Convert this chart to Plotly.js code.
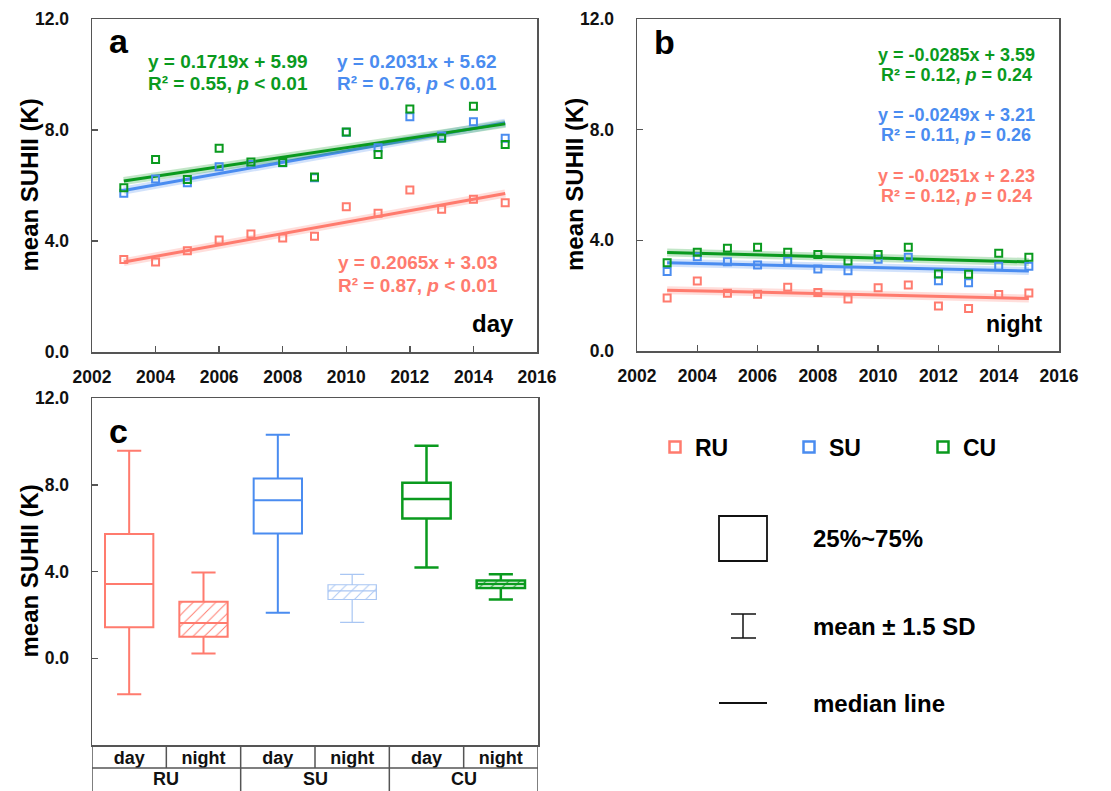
<!DOCTYPE html>
<html><head><meta charset="utf-8">
<script src="https://cdn.plot.ly/plotly-3.0.1.min.js"></script>
<style>html,body{margin:0;padding:0;background:#fff;overflow:hidden}#chart{width:1111px;height:791px}</style>
</head><body><div id="chart"></div>
<script>
// ---------- data ----------
const years = [2003, 2004, 2005, 2006, 2007, 2008, 2009, 2010, 2011, 2012, 2013, 2014, 2015];
const ruDay = [3.33, 3.24, 3.65, 4.04, 4.25, 4.11, 4.17, 5.23, 5.00, 5.84, 5.14, 5.50, 5.38];
const suDay = [5.72, 6.23, 6.10, 6.68, 6.76, 6.82, 6.28, 7.92, 7.36, 8.48, 7.78, 8.30, 7.70];
const cuDay = [5.92, 6.94, 6.22, 7.34, 6.85, 6.83, 6.31, 7.93, 7.12, 8.76, 7.70, 8.86, 7.48];
const ruNight = [1.92, 2.53, 2.09, 2.05, 2.30, 2.11, 1.88, 2.29, 2.39, 1.63, 1.54, 2.04, 2.10];
const suNight = [2.87, 3.41, 3.23, 3.11, 3.25, 2.96, 2.90, 3.32, 3.39, 2.54, 2.47, 3.06, 3.06];
const cuNight = [3.19, 3.57, 3.71, 3.75, 3.57, 3.49, 3.25, 3.49, 3.75, 2.78, 2.77, 3.53, 3.39];

// fitted trend lines (values at 2003 and 2015)
const trendYears = [2003, 2015];
const ruDayTrend = [3.24, 5.71];
const suDayTrend = [5.82, 8.26];
const cuDayTrend = [6.16, 8.22];
const ruNightTrend = [2.20, 1.90];
const suNightTrend = [3.19, 2.89];
const cuNightTrend = [3.56, 3.22];

// box statistics (panel c)
const boxCats = ['RU day', 'RU night', 'SU day', 'SU night', 'CU day', 'CU night'];
const boxTickText = ['day', 'night', 'day', 'night', 'day', 'night'];
const groupLabels = ['RU', 'SU', 'CU'];
const boxQ1 = [1.43, 0.99, 5.75, 2.71, 6.44, 3.24];
const boxMedian = [3.42, 1.63, 7.29, 3.11, 7.34, 3.42];
const boxQ3 = [5.73, 2.60, 8.29, 3.39, 8.09, 3.59];
const boxLow = [-1.66, 0.22, 2.10, 1.65, 4.18, 2.71];
const boxHigh = [9.57, 3.95, 10.31, 3.87, 9.80, 3.87];

const eqDay = {
  cu: ['y = 0.1719x + 5.99', 'R² = 0.55, <i>p</i> < 0.01'],
  su: ['y = 0.2031x + 5.62', 'R² = 0.76, <i>p</i> < 0.01'],
  ru: ['y = 0.2065x + 3.03', 'R² = 0.87, <i>p</i> < 0.01']
};
const eqNight = {
  cu: ['y = -0.0285x + 3.59', 'R² = 0.12, <i>p</i> = 0.24'],
  su: ['y = -0.0249x + 3.21', 'R² = 0.11, <i>p</i> = 0.26'],
  ru: ['y = -0.0251x + 2.23', 'R² = 0.12, <i>p</i> = 0.24']
};

// ---------- styles ----------
const C_RU = '#FF7B6E', C_SU = '#4A8CF0', C_CU = '#0A9A1E', C_SU_L = '#A9C6F3';
const FONT = 'Liberation Sans, Arial, Helvetica, sans-serif';
const W = 1111, H = 791;
const fx = p => p / W, fy = p => 1 - p / H;
const AX = '#555';

const traces = [];
function trend(xa, ya, y, color) {
  traces.push({x: trendYears, y: y, xaxis: xa, yaxis: ya, mode: 'lines', showlegend: false, hoverinfo: 'skip',
    line: {color: color, width: 8}, opacity: 0.25});
  traces.push({x: trendYears, y: y, xaxis: xa, yaxis: ya, mode: 'lines', showlegend: false, hoverinfo: 'skip',
    line: {color: color, width: 3}});
}
function pts(xa, ya, y, color, name) {
  traces.push({x: years, y: y, xaxis: xa, yaxis: ya, mode: 'markers', name: name, showlegend: false,
    marker: {symbol: 'square-open', size: 7, color: color, line: {color: color, width: 2}}});
}
trend('x', 'y', ruDayTrend, C_RU); trend('x', 'y', suDayTrend, C_SU); trend('x', 'y', cuDayTrend, C_CU);
trend('x2', 'y2', ruNightTrend, C_RU); trend('x2', 'y2', suNightTrend, C_SU); trend('x2', 'y2', cuNightTrend, C_CU);
pts('x', 'y', ruDay, C_RU, 'RU'); pts('x', 'y', suDay, C_SU, 'SU'); pts('x', 'y', cuDay, C_CU, 'CU');
pts('x2', 'y2', ruNight, C_RU, 'RU'); pts('x2', 'y2', suNight, C_SU, 'SU'); pts('x2', 'y2', cuNight, C_CU, 'CU');
// legend entries (larger symbols, as in the figure legend)
[['RU', C_RU], ['SU', C_SU], ['CU', C_CU]].forEach(([n, c]) => {
  traces.push({x: [null], y: [null], xaxis: 'x', yaxis: 'y', mode: 'markers', name: n, showlegend: true,
    marker: {symbol: 'square-open', size: 11, color: c, line: {color: c, width: 2.5}}});
});

const boxColors = [C_RU, C_RU, C_SU, C_SU_L, C_CU, C_CU];
const boxLineW = [2, 2, 2, 1.2, 2.5, 2.5];
// hatch fill for night boxes
[1, 3, 5].forEach(i => {
  traces.push({type: 'bar', x: [boxCats[i]], base: [boxQ1[i]], y: [boxQ3[i] - boxQ1[i]], width: 0.65,
    xaxis: 'x3', yaxis: 'y3', showlegend: false, hoverinfo: 'skip',
    marker: {color: 'rgba(0,0,0,0)', line: {width: 0},
      pattern: {shape: '/', fgcolor: boxColors[i], bgcolor: 'rgba(0,0,0,0)', size: 8, solidity: 0.12}}});
});
boxCats.forEach((c, i) => {
  traces.push({type: 'box', x: [c], q1: [boxQ1[i]], median: [boxMedian[i]], q3: [boxQ3[i]],
    lowerfence: [boxLow[i]], upperfence: [boxHigh[i]], width: 0.65, whiskerwidth: 0.5,
    boxpoints: false, xaxis: 'x3', yaxis: 'y3', showlegend: false, name: c,
    fillcolor: 'rgba(0,0,0,0)', line: {color: boxColors[i], width: boxLineW[i]}});
});

// ---------- layout ----------
function f(size, color) { return {family: FONT, size: size, color: color || '#000', weight: 'bold'}; }
const tickFont = f(17.5, '#111');
function axBase(extra) {
  return Object.assign({showline: true, mirror: true, linecolor: AX, linewidth: 1.5, showgrid: false, zeroline: false,
    ticks: 'inside', ticklen: 6, tickwidth: 1.5, tickcolor: AX, tickfont: tickFont, fixedrange: true, automargin: false}, extra);
}
const yearTicks = [2002, 2004, 2006, 2008, 2010, 2012, 2014, 2016];

const anns = [];
function ann(text, x, y, o) {
  anns.push(Object.assign({text: text, x: x, y: y, xref: 'paper', yref: 'paper', showarrow: false,
    xanchor: 'center', yanchor: 'middle', font: f(19)}, o || {}));
}

// panel labels
ann('a', fx(107), fy(41), {xanchor: 'left', font: f(34)});
ann('b', fx(652), fy(42), {xanchor: 'left', font: f(34)});
ann('c', fx(107), fy(431), {xanchor: 'left', font: f(34)});
// y titles
ann('mean SUHII (K)', fx(29), fy(185.5), {textangle: -90, font: f(24)});
ann('mean SUHII (K)', fx(575), fy(185), {textangle: -90, font: f(24)});
ann('mean SUHII (K)', fx(29), fy(571.5), {textangle: -90, font: f(24)});
// equations panel a
ann(eqDay.cu[0], fx(228), fy(61), {font: f(19, C_CU)});
ann(eqDay.cu[1], fx(228), fy(83), {font: f(19, C_CU)});
ann(eqDay.su[0], fx(417), fy(61), {font: f(19, C_SU)});
ann(eqDay.su[1], fx(417), fy(83), {font: f(19, C_SU)});
ann(eqDay.ru[0], fx(418), fy(262.5), {font: f(19, C_RU)});
ann(eqDay.ru[1], fx(418), fy(285), {font: f(19, C_RU)});
ann('day', fx(516), fy(323), {xanchor: 'right', font: f(24)});
// equations panel b
ann(eqNight.cu[0], fx(956), fy(55), {font: f(18, C_CU)});
ann(eqNight.cu[1], fx(956), fy(75), {font: f(18, C_CU)});
ann(eqNight.su[0], fx(956), fy(115), {font: f(18, C_SU)});
ann(eqNight.su[1], fx(956), fy(135), {font: f(18, C_SU)});
ann(eqNight.ru[0], fx(956), fy(176), {font: f(18, C_RU)});
ann(eqNight.ru[1], fx(956), fy(196), {font: f(18, C_RU)});
ann('night', fx(1045), fy(324), {xanchor: 'right', font: f(23)});
// group labels of panel c table
groupLabels.forEach((g, i) => {
  anns.push({text: g, x: 2 * i + 0.5, y: fy(779), xref: 'x3', yref: 'paper', showarrow: false,
    xanchor: 'center', yanchor: 'middle', font: f(18, '#111')});
});
// box legend texts
ann('25%~75%', fx(811), fy(538), {xanchor: 'left', font: f(24)});
ann('mean ± 1.5 SD', fx(811), fy(626), {xanchor: 'left', font: f(24)});
ann('median line', fx(811), fy(703), {xanchor: 'left', font: f(24)});

const shapes = [];
function tline(x, y0, y1) {
  shapes.push({type: 'line', xref: 'x3', yref: 'paper', x0: x, x1: x, y0: fy(y0), y1: fy(y1), line: {color: AX, width: 1.5}});
}
[-0.5, 1.5, 3.5, 5.5].forEach(x => tline(x, 745, 795));
[0.5, 2.5, 4.5].forEach(x => tline(x, 745, 768));
shapes.push({type: 'line', xref: 'x3', yref: 'paper', x0: -0.5, x1: 5.5, y0: fy(768), y1: fy(768), line: {color: AX, width: 1.5}});
// box legend symbols
const K = {color: '#111', width: 1.8};
shapes.push({type: 'rect', xref: 'paper', yref: 'paper', x0: fx(719), x1: fx(767), y0: fy(516), y1: fy(561), line: K});
shapes.push({type: 'line', xref: 'paper', yref: 'paper', x0: fx(743), x1: fx(743), y0: fy(614), y1: fy(638), line: {color: '#111', width: 1.5}});
shapes.push({type: 'line', xref: 'paper', yref: 'paper', x0: fx(731), x1: fx(756), y0: fy(614), y1: fy(614), line: {color: '#111', width: 1.5}});
shapes.push({type: 'line', xref: 'paper', yref: 'paper', x0: fx(731), x1: fx(756), y0: fy(638), y1: fy(638), line: {color: '#111', width: 1.5}});
shapes.push({type: 'line', xref: 'paper', yref: 'paper', x0: fx(719), x1: fx(767), y0: fy(703), y1: fy(703), line: K});

const layout = {
  width: W, height: H, autosize: false, margin: {l: 0, r: 0, t: 0, b: 0, pad: 0}, paper_bgcolor: '#fff', plot_bgcolor: 'rgba(0,0,0,0)',
  font: {family: FONT}, barmode: 'overlay', boxmode: 'overlay', hovermode: false,
  xaxis: axBase({domain: [fx(92), fx(537)], range: [2002, 2016], tickvals: yearTicks, anchor: 'y', ticklabelstandoff: 8}),
  yaxis: axBase({domain: [fy(352), fy(19)], range: [0, 12], tickvals: [0, 4, 8, 12], tickformat: '.1f', anchor: 'x', ticklabelstandoff: 18}),
  xaxis2: axBase({domain: [fx(637), fx(1059)], range: [2002, 2016], tickvals: yearTicks, anchor: 'y2', ticklabelstandoff: 8}),
  yaxis2: axBase({domain: [fy(351), fy(19)], range: [0, 12], tickvals: [0, 4, 8, 12], tickformat: '.1f', anchor: 'x2', ticklabelstandoff: 18}),
  xaxis3: axBase({domain: [fx(92), fx(538)], type: 'category', categoryorder: 'array', categoryarray: boxCats,
    range: [-0.5, 5.5], tickvals: boxCats, ticktext: boxTickText, ticks: '', anchor: 'y3', ticklabelstandoff: -4,
    tickfont: f(18, '#111')}),
  yaxis3: axBase({domain: [fy(745), fy(398)], range: [-4, 12], tickvals: [0, 4, 8, 12], tickformat: '.1f', anchor: 'x3', ticklabelstandoff: 18}),
  legend: {orientation: 'h', x: fx(655), xanchor: 'left', y: fy(447), yanchor: 'middle', font: f(23),
    entrywidth: 89, entrywidthmode: 'pixels', bgcolor: 'rgba(0,0,0,0)', itemclick: false, itemdoubleclick: false},
  annotations: anns, shapes: shapes
};

Plotly.newPlot('chart', traces, layout, {displayModeBar: false, staticPlot: true});
</script>
</body></html>
